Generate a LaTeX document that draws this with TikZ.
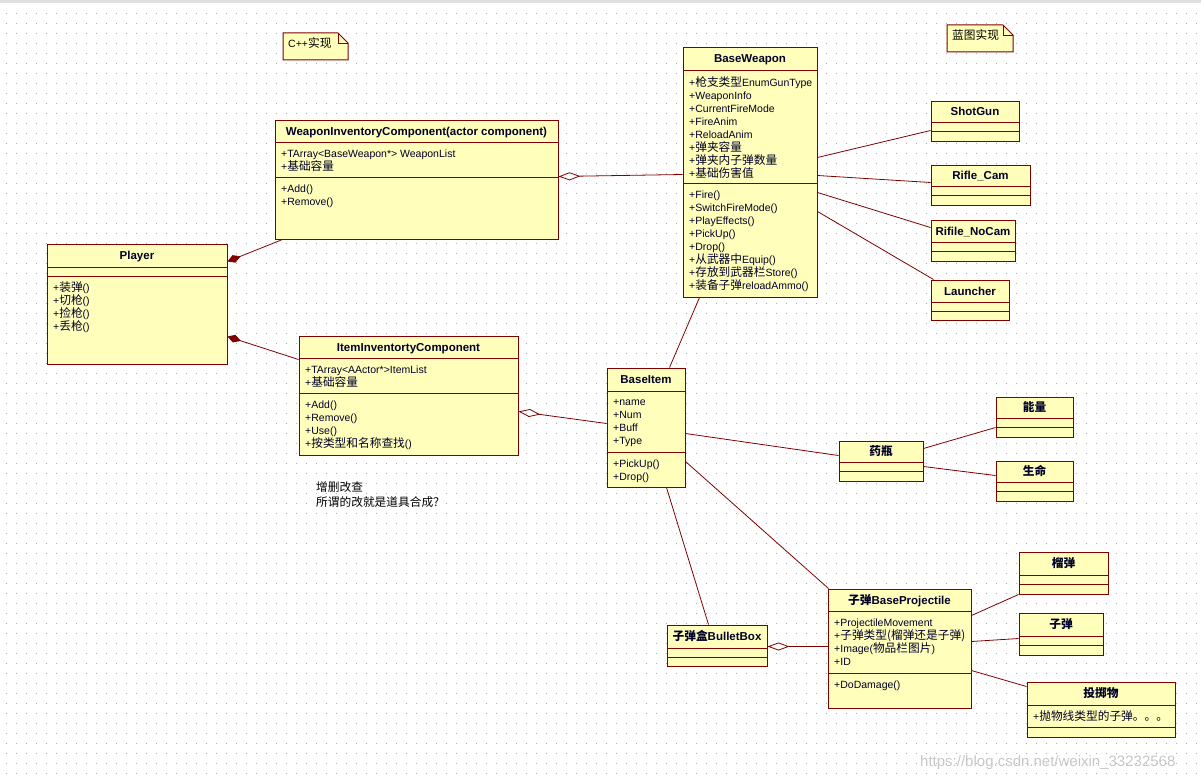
\documentclass[tikz,border=0pt]{standalone}
\usepackage{fontspec}
\setmainfont{Liberation Sans}
\newfontfamily\zhfont{Noto Sans CJK SC}
\newcommand{\zh}[1]{{\zhfont\fontsize{11.7pt}{13pt}\selectfont #1}}
\newcommand{\mstrut}{\rule{0pt}{11pt}}
\usetikzlibrary{arrows.meta,calc}
\definecolor{roseline}{RGB}{128,0,0}
\definecolor{rosefill}{RGB}{255,255,187}
\definecolor{rosetext}{RGB}{0,0,40}
\definecolor{griddot}{RGB}{175,175,175}

% class box: name, left, top, right, bottom, line 1, line 2, title
\newcommand{\umlclass}[8]{%
  \node[classbox, minimum width={#4-#2}, minimum height={#5-#3}] (#1) at ({(#2+#4)/2},{(#3+#5)/2}) {};
  \draw[umlline] (#2,#6) -- (#4,#6) (#2,#7) -- (#4,#7);
  \node[titletext] (#1-t) at ({(#2+#4)/2},{(#3+#6)/2+4}) {#8};
}

\begin{document}
\begin{tikzpicture}[x=1pt, y=-1pt,
    classbox/.style={draw=roseline, fill=rosefill, line width=1pt, inner sep=0pt},
    umlline/.style={roseline, line width=1pt},
    titletext/.style={anchor=base, font=\bfseries\fontsize{11.5}{13}\selectfont, text=rosetext, inner sep=0pt},
    members/.style={anchor=north west, yshift=11pt, align=left, font=\fontsize{10.5}{13}\selectfont,
        text=rosetext, inner sep=0pt},
    notetext/.style={anchor=base west, font=\fontsize{10.5}{13}\selectfont, inner sep=0pt},
    assoc/.style={roseline, line width=0.8pt},
    aggr/.style={assoc, -{Diamond[open, length=22pt, width=8pt]}},
    comp/.style={assoc, -{Diamond[length=14pt, width=8pt]}}]

    % 背景和网格点
    \fill[white] (0,0) rectangle (1201,776);
    \useasboundingbox (0,0) rectangle (1201,776);
    \fill[black!12] (0,0) rectangle (1201,3);
    \foreach \gy in {13.5,23.5,...,773.5}
        \draw[griddot, line width=1pt, dash pattern=on 1pt off 9pt] (5.5,\gy) -- (1201,\gy);

    % 注释
    \draw[umlline, fill=rosefill] (283,33) -- (338,33) -- (348,43) -- (348,60) -- (283,60) -- cycle;
    \draw[umlline, line width=0.6pt] (338,33) -- (338,43) -- (348,43);
    \node[notetext] (cppnote) at (288,48) {C++\zh{实现}};
    \draw[umlline, fill=rosefill] (947,25) -- (1003,25) -- (1013,35) -- (1013,52) -- (947,52) -- cycle;
    \draw[umlline, line width=0.6pt] (1003,25) -- (1003,35) -- (1013,35);
    \node[notetext] (bpnote) at (952,40) {\zh{蓝图实现}};

    % 武器部分
    \umlclass{wic}{275}{120}{558}{239}{142}{177}{WeaponInventoryComponent(actor component)}
    \node[members] (wic-a) at (281,157.5) {\mstrut+TArray<BaseWeapon*> WeaponList\\+\zh{基础容量}};
    \node[members] (wic-o) at (281,192.5) {\mstrut+Add()\\+Remove()};

    \umlclass{bw}{683}{48}{817}{297}{70}{183}{BaseWeapon}
    \node[members] (bw-a) at (689,86) {\mstrut+\zh{枪支类型}EnumGunType\\+WeaponInfo\\+CurrentFireMode\\+FireAnim\\+ReloadAnim\\+\zh{弹夹容量}\\+\zh{弹夹内子弹数量}\\+\zh{基础伤害值}};
    \node[members] (bw-o) at (689,198) {\mstrut+Fire()\\+SwitchFireMode()\\+PlayEffects()\\+PickUp()\\+Drop()\\+\zh{从武器中}Equip()\\+\zh{存放到武器栏}Store()\\+\zh{装备子弹}reloadAmmo()};

    \umlclass{shot}{931}{101}{1019}{141}{122}{131}{ShotGun}
    \umlclass{rcam}{931}{165}{1030}{205}{186}{195}{Rifle\_Cam}
    \umlclass{rnocam}{931}{220}{1015}{261}{242}{251}{Rifile\_NoCam}
    \umlclass{launch}{931}{280}{1009}{320}{302}{311}{Launcher}

    % 玩家
    \umlclass{player}{47}{244}{227}{364}{267}{276}{Player}
    \node[members] (player-o) at (53,291) {\mstrut+\zh{装弹}()\\+\zh{切枪}()\\+\zh{捡枪}()\\+\zh{丢枪}()};

    % 道具部分
    \umlclass{iic}{299}{336}{518}{455}{358}{393}{ItemInventortyComponent}
    \node[members] (iic-a) at (305,373) {\mstrut+TArray<AActor*>ItemList\\+\zh{基础容量}};
    \node[members] (iic-o) at (305,408) {\mstrut+Add()\\+Remove()\\+Use()\\+\zh{按类型和名称查找}()};
    \node[anchor=base west, align=left, font=\fontsize{12}{15}\selectfont, inner sep=0pt] (crudtext) at (316,506) {\zh{增删改查}\\\zh{所谓的改就是道具合成？}};

    \umlclass{bi}{607}{368}{685}{487}{391}{452}{BaseItem}
    \node[members] (bi-a) at (613,405) {\mstrut+name\\+Num\\+Buff\\+Type};
    \node[members] (bi-o) at (613,467) {\mstrut+PickUp()\\+Drop()};

    \umlclass{yao}{839}{441}{923}{481}{462}{471}{\zh{药瓶}}
    \umlclass{neng}{996}{397}{1073}{437}{418}{427}{\zh{能量}}
    \umlclass{life}{996}{461}{1073}{501}{482}{491}{\zh{生命}}

    % 子弹部分
    \umlclass{bbox}{667}{625}{767}{666}{648}{657}{\zh{子弹盒}BulletBox}
    \umlclass{proj}{828}{589}{971}{708}{611}{673}{\zh{子弹}BaseProjectile}
    \node[members] (proj-a) at (834,626) {\mstrut+ProjectileMovement\\+\zh{子弹类型(榴弹还是子弹)}\\+Image(\zh{物品栏图片})\\+ID};
    \node[members] (proj-o) at (834,688) {\mstrut+DoDamage()};
    \umlclass{liu}{1019}{552}{1108}{594}{575}{584}{\zh{榴弹}}
    \umlclass{zd}{1019}{613}{1103}{655}{636}{645}{\zh{子弹}}
    \umlclass{tou}{1027}{682}{1175}{737}{705}{727}{\zh{投掷物}}
    \node[members] (tou-a) at (1033,720) {\mstrut+\zh{抛物线类型的子弹。。。}};

    % 连线
    \draw[comp] ($(wic.south west)+(8,0)$) -- ($(player.north east)+(0,18)$);
    \draw[comp] ($(iic.north west)+(0,24)$) -- ($(player.north east)+(0,93)$);
    \draw[aggr] ($(bw.north west)+(0,127)$) -- ($(wic.north east)+(0,57)$);
    \draw[aggr] ($(bi.north west)+(0,56)$) -- ($(iic.north east)+(0,76)$);
    \draw[aggr] ($(proj.north west)+(0,58)$) -- ($(bbox.north east)+(0,22)$);
    \draw[assoc] ($(bi.north west)+(63,0)$) -- ($(bw.south west)+(17,0)$);
    \draw[assoc] ($(bw.north east)+(0,110)$) -- ($(shot.north west)+(0,30)$);
    \draw[assoc] ($(bw.north east)+(0,128)$) -- ($(rcam.north west)+(0,18)$);
    \draw[assoc] ($(bw.north east)+(0,145)$) -- ($(rnocam.north west)+(0,8)$);
    \draw[assoc] ($(bw.north east)+(0,164)$) -- ($(launch.north west)+(3,0)$);
    \draw[assoc] ($(bi.north east)+(0,66)$) -- ($(yao.north west)+(0,15)$);
    \draw[assoc] ($(yao.north east)+(0,8)$) -- ($(neng.north west)+(0,31)$);
    \draw[assoc] ($(yao.north east)+(0,26)$) -- ($(life.north west)+(0,15)$);
    \draw[assoc] ($(bi.north east)+(0,94)$) -- ($(proj.north west)+(1,0)$);
    \draw[assoc] ($(bi.south west)+(60,0)$) -- ($(bbox.north west)+(42,0)$);
    \draw[assoc] ($(proj.north east)+(0,27)$) -- (liu.south west);
    \draw[assoc] ($(proj.north east)+(0,53)$) -- ($(zd.north west)+(0,26)$);
    \draw[assoc] ($(proj.north east)+(0,82)$) -- ($(tou.north west)+(0,5)$);

    % 水印
    \node[anchor=base west, text=black!22, font=\fontsize{15}{15}\selectfont, inner sep=0pt] (mark) at (920,766) {https://blog.csdn.net/weixin\_33232568};
\end{tikzpicture}
\end{document}
